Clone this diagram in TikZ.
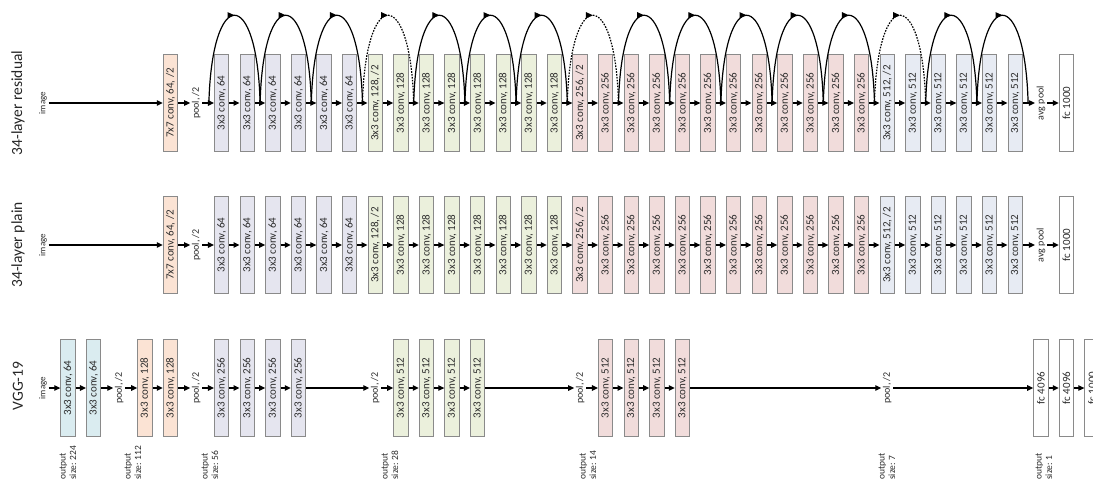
\documentclass[tikz,border=0pt]{standalone}
\usepackage{fontspec}
\setmainfont{Carlito}
\usepackage{xcolor}
\usetikzlibrary{arrows.meta,positioning,calc,decorations.markings}

\definecolor{peach}{HTML}{FBE3D4}
\definecolor{lav}{HTML}{E5E5EF}
\definecolor{sage}{HTML}{EBF0DC}
\definecolor{rose}{HTML}{F1DCDB}
\definecolor{steel}{HTML}{E7EBF3}
\definecolor{aqua}{HTML}{DAECF0}
\definecolor{frame}{HTML}{8A8A8A}
\definecolor{ink}{HTML}{2B2B2B}

\begin{document}
\begin{tikzpicture}[x=1pt, y=-1pt, font=\fontsize{11}{12}\selectfont, text=ink,
  layer/.style={draw=frame, line width=1pt, rotate=90, minimum width=97pt,
    minimum height=14.5pt, inner sep=0pt},
  tag/.style={rotate=90, inner sep=1.5pt, font=\fontsize{10}{11}\selectfont},
  imgtag/.style={rotate=90, inner sep=1.5pt, font=\fontsize{9}{10}\selectfont},
  rowname/.style={rotate=90, font=\fontsize{15.5}{17}\selectfont, text=black!85},
  outsize/.style={rotate=90, anchor=west, align=left, inner sep=0pt,
    font=\fontsize{9.5}{10.5}\selectfont},
  flow/.style={-{Triangle[length=6pt,width=5.5pt]}, line width=1.2pt},
  shortcut/.style={line width=1.2pt, postaction={decorate},
    decoration={markings, mark=at position 0.5 with {\arrow{Triangle[length=7pt,width=6pt]}}}},
  proj/.style={dash pattern=on 1.6pt off 1.3pt}]
\useasboundingbox (0,0) rectangle (1093,482);
\clip (0,0) rectangle (1093,482);

% row names
\node[rowname] (t1) at (18,103) {34-layer residual};
\node[rowname] (t2) at (18,245) {34-layer plain};
\node[rowname] (t3) at (18,386) {VGG-19};

% residual and plain rows share the same layers
\foreach \r/\y in {r/103,p/245}{
  \node[imgtag] (\r i) at (43,\y) {image};
  \node[layer, fill=peach] (\r0) at (170.5,\y) {7x7 conv, 64, /2};
  \node[tag] (\r1) at (196.1,\y) {pool, /2};
  \foreach \first/\last/\ch/\cl in {0/5/64/lav, 6/13/128/sage, 14/25/256/rose, 26/31/512/steel}{
    \foreach \j in {\first,...,\last}{
      \node[layer, fill=\cl] (\r c\j) at ({221.7+25.6*\j},\y)
        {3x3 conv, \ch\ifnum\j=\first\ifnum\j>0, /2\fi\fi};
    }
  }
  \node[tag] (\r a) at (1040.9,\y) {avg pool};
  \node[layer, fill=white] (\r f) at (1066.5,\y) {fc 1000};
  \draw[flow] (\r i) -- (\r0);
  \draw[flow] (\r0) -- (\r1);
  \draw[flow] (\r1) -- (\r c0);
  \foreach \j [evaluate=\j as \n using int(\j+1)] in {0,...,30}
    \draw[flow] (\r c\j) -- (\r c\n);
  \draw[flow] (\r c31) -- (\r a);
  \draw[flow] (\r a) -- (\r f);
}

% shortcut connections
\foreach \j in {0,...,31}
  \coordinate (g\j) at ($(rc\j)+(-12.8,0)$);
\coordinate (g32) at ($(rc31)+(12.8,0)$);
\foreach \k/\sty in {0/solid,1/solid,2/solid,3/proj,4/solid,5/solid,6/solid,7/proj,
    8/solid,9/solid,10/solid,11/solid,12/solid,13/proj,14/solid,15/solid}{
  \pgfmathtruncatemacro{\a}{2*\k}
  \pgfmathtruncatemacro{\b}{2*\k+2}
  \draw[shortcut,\sty] (g\a) .. controls +(3,-117) and +(-3,-117) .. (g\b);
}

% VGG-19
\node[imgtag] (vi) at (43,388) {image};
\node[layer, fill=aqua] (va) at (68.1,388) {3x3 conv, 64};
\node[layer, fill=aqua] (vb) at (93.7,388) {3x3 conv, 64};
\node[tag] (vp1) at (119.3,388) {pool, /2};
\node[layer, fill=peach] (vc) at (144.9,388) {3x3 conv, 128};
\node[layer, fill=peach] (vd) at (170.5,388) {3x3 conv, 128};
\node[tag] (vp2) at (196.1,388) {pool, /2};
\foreach \j in {1,...,4}
  \node[layer, fill=lav] (ve\j) at ({196.1+25.6*\j},388) {3x3 conv, 256};
\node[tag] (vp3) at (375.3,388) {pool, /2};
\foreach \j in {1,...,4}
  \node[layer, fill=sage] (vf\j) at ({375.3+25.6*\j},388) {3x3 conv, 512};
\node[tag] (vp4) at (580.1,388) {pool, /2};
\foreach \j in {1,...,4}
  \node[layer, fill=rose] (vg\j) at ({580.1+25.6*\j},388) {3x3 conv, 512};
\node[tag] (vp5) at (887.3,388) {pool, /2};
\node[layer, fill=white] (vh1) at (1040.9,388) {fc 4096};
\node[layer, fill=white] (vh2) at (1066.5,388) {fc 4096};
\node[layer, fill=white] (vh3) at (1092.1,388) {fc 1000};
\foreach \a/\b in {vi/va,va/vb,vb/vp1,vp1/vc,vc/vd,vd/vp2,vp2/ve1,ve1/ve2,ve2/ve3,
    ve3/ve4,ve4/vp3,vp3/vf1,vf1/vf2,vf2/vf3,vf3/vf4,vf4/vp4,vp4/vg1,vg1/vg2,vg2/vg3,
    vg3/vg4,vg4/vp5,vp5/vh1,vh1/vh2,vh2/vh3}
  \draw[flow] (\a) -- (\b);

% output sizes
\node[outsize] (o1) at (68,480) {output\\size: 224};
\node[outsize] (o2) at (133,480) {output\\size: 112};
\node[outsize] (o3) at (210,480) {output\\size: 56};
\node[outsize] (o4) at (390,480) {output\\size: 28};
\node[outsize] (o5) at (588,480) {output\\size: 14};
\node[outsize] (o6) at (887,480) {output\\size: 7};
\node[outsize] (o7) at (1044,480) {output\\size: 1};
\end{tikzpicture}
\end{document}
